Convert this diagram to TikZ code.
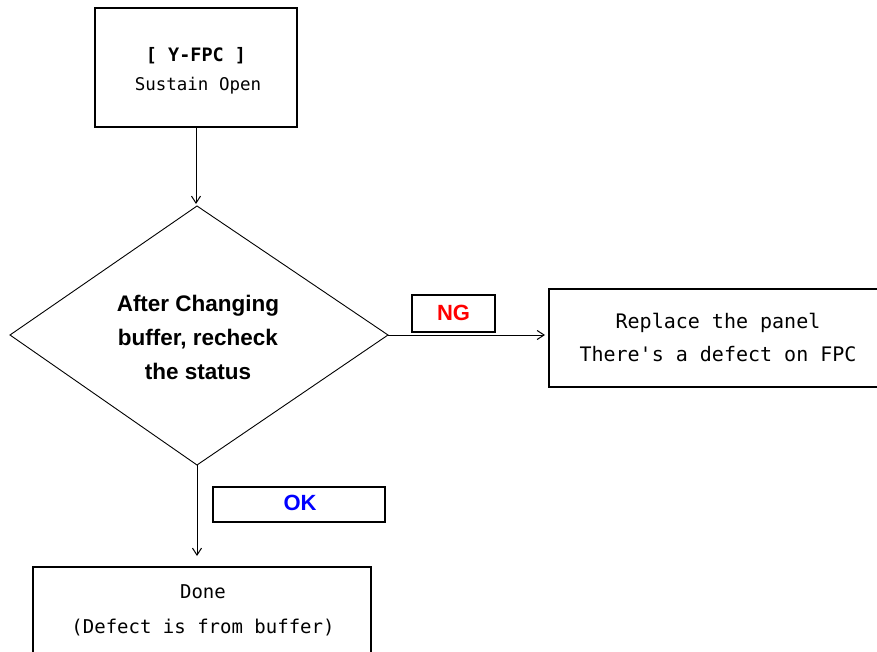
\documentclass[tikz,border=0pt]{standalone}
\usepackage{fontspec}
\setmainfont{Liberation Sans}
\newfontfamily\monofont{DejaVu Sans Mono}
\usetikzlibrary{arrows.meta}
\begin{document}
\begin{tikzpicture}[x=1pt,y=-1pt,
  box/.style={draw=black,line width=1.2pt},
  flow/.style={draw=black,line width=1pt,-{Straight Barb[length=7pt,width=9pt]}},
  txt/.style={inner sep=0pt,align=center}]
  \useasboundingbox (0,0) rectangle (877,652);

  % start box
  \draw[box] (95,8) rectangle (297,127);
  \node[txt,font=\monofont\bfseries\fontsize{18.5}{20}\selectfont] (t1) at (196,56) {[ Y-FPC ]};
  \node[txt,font=\monofont\fontsize{17.5}{20}\selectfont] (t2) at (198,86) {Sustain Open};
  \coordinate (startb) at (196,127);

  % decision diamond
  \coordinate (dtop) at (197,206);
  \coordinate (dleft) at (10,335);
  \coordinate (dright) at (388,335);
  \coordinate (dbot) at (197,465);
  \draw[line width=0.9pt] (dtop) -- (dright) -- (dbot) -- (dleft) -- cycle;
  \node[txt,font=\bfseries\fontsize{22.5}{34}\selectfont] (dec) at (198,337)
    {After Changing\\buffer, recheck\\the status};

  % result boxes
  \draw[box] (549,289) rectangle (880,387);
  \node[txt,font=\monofont\fontsize{20}{33}\selectfont] (ng) at (718,337)
    {Replace the panel\\There's a defect on FPC};
  \coordinate (ngl) at (548,335);

  \draw[box] (33,567) rectangle (371,660);
  \node[txt,font=\monofont\fontsize{19}{35}\selectfont] (ok) at (203,610)
    {Done\\(Defect is from buffer)};
  \coordinate (okt) at (197,560);

  % branch labels
  \draw[box] (412,295) rectangle (495,332);
  \node[txt,text=red,font=\bfseries\fontsize{22}{24}\selectfont] (nglab) at (453.5,313) {NG};
  \draw[box] (213,487) rectangle (385,522);
  \node[txt,text=blue,font=\bfseries\fontsize{22}{24}\selectfont] (oklab) at (300,503) {OK};

  % connectors
  \draw[flow] (startb) -- (196,204);
  \draw[flow] (dright) -- (545,335);
  \draw[flow] (dbot) -- (197,556);
\end{tikzpicture}
\end{document}
